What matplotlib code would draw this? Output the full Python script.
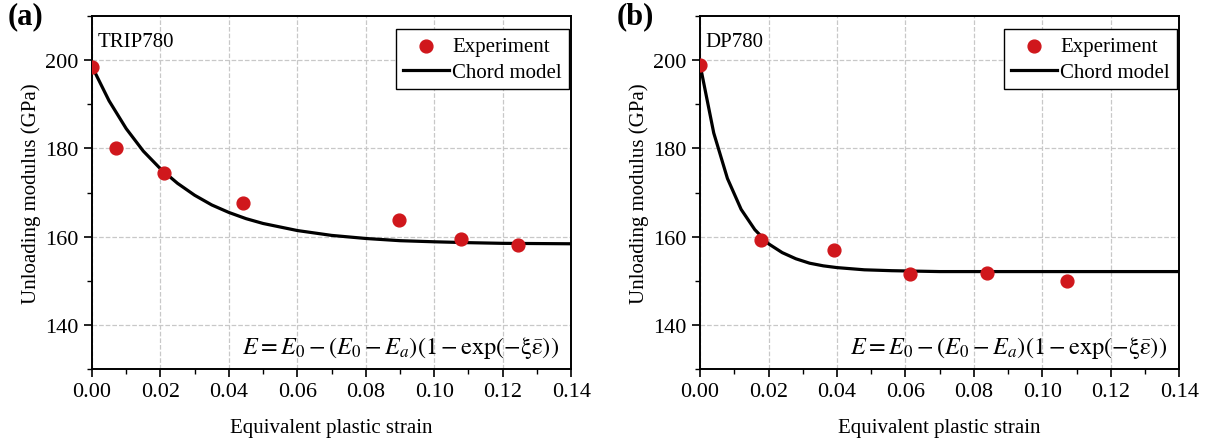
import matplotlib
matplotlib.use("Agg")
import matplotlib.pyplot as plt
from matplotlib.ticker import MultipleLocator

plt.rcParams['font.family'] = ['Liberation Serif', 'DejaVu Serif']
plt.rcParams['mathtext.fontset'] = 'stix'

# TRIP780 experiment
trip_strain = [0.0, 0.0070, 0.0209, 0.0440, 0.0898, 0.1078, 0.1246]
trip_modulus = [198.4, 180.1, 174.4, 167.6, 163.9, 159.4, 158.2]
# TRIP780 chord model
trip_fit_strain = [0.0, 0.005, 0.01, 0.015, 0.02, 0.025, 0.03, 0.035, 0.04, 0.045,
                   0.05, 0.06, 0.07, 0.08, 0.09, 0.10, 0.11, 0.12, 0.13, 0.14]
trip_fit_modulus = [198.6, 190.8, 184.5, 179.4, 175.4, 172.1, 169.4, 167.2, 165.5, 164.1,
                    163.0, 161.4, 160.3, 159.6, 159.1, 158.85, 158.65, 158.5, 158.45, 158.4]

# DP780 experiment
dp_strain = [0.0, 0.0177, 0.0392, 0.0612, 0.0838, 0.1072]
dp_modulus = [198.9, 159.3, 157.0, 151.6, 151.8, 150.0]
# DP780 chord model
dp_fit_strain = [0.0, 0.004, 0.008, 0.012, 0.016, 0.020, 0.024, 0.028, 0.032, 0.036,
                 0.040, 0.048, 0.056, 0.07, 0.10, 0.14]
dp_fit_modulus = [199.0, 183.5, 173.2, 166.2, 161.6, 158.4, 156.4, 155.0, 154.0, 153.4,
                  153.0, 152.5, 152.3, 152.1, 152.1, 152.1]

panels = [
    ('(a)', 'TRIP780', trip_strain, trip_modulus, trip_fit_strain, trip_fit_modulus),
    ('(b)', 'DP780', dp_strain, dp_modulus, dp_fit_strain, dp_fit_modulus),
]

equation = (r'$E=E_0-\left(E_0-E_a\right)\left(1-\mathrm{exp}'
            r'\left(-\mathrm{\xi}\bar{\mathrm{\varepsilon}}\right)\right)$')

fig = plt.figure(figsize=(12.07, 4.39), dpi=100)
lefts = [0.0762, 0.580]

for left, (tag, steel, xs, ys, fx, fy) in zip(lefts, panels):
    ax = fig.add_axes([left, 0.157, 0.3970, 0.804])
    ax.scatter(xs, ys, s=85, color='#d0171c', zorder=3, label='Experiment')
    ax.plot(fx, fy, color='black', lw=2.3, zorder=2, label='Chord model')

    ax.set_xlim(0, 0.14)
    ax.set_ylim(130, 210)
    ax.xaxis.set_major_locator(MultipleLocator(0.02))
    ax.xaxis.set_minor_locator(MultipleLocator(0.01))
    ax.yaxis.set_major_locator(MultipleLocator(20))
    ax.yaxis.set_minor_locator(MultipleLocator(10))
    ax.xaxis.set_major_formatter(plt.FormatStrFormatter('%.2f'))
    ax.tick_params(which='major', direction='out', length=6, width=1.2, labelsize=16)
    ax.tick_params(which='minor', direction='out', length=3.5, width=1.0)
    ax.tick_params(axis='x', top=False)
    ax.tick_params(axis='y', right=False)
    ax.grid(True, which='major', ls='--', color='#c8c8c8', lw=0.9)
    for sp in ax.spines.values():
        sp.set_linewidth(1.4)

    ax.set_xlabel('Equivalent plastic strain', fontsize=15, labelpad=12)
    ax.set_ylabel('Unloading modulus (GPa)', fontsize=15, labelpad=3)

    ax.text(0.012, 0.955, steel, transform=ax.transAxes, fontsize=15,
            ha='left', va='top')
    ax.text(0.975, 0.025, equation, transform=ax.transAxes, fontsize=17.5,
            ha='right', va='bottom')
    ax.text(-0.175, 1.0, tag, transform=ax.transAxes, fontsize=22,
            fontweight='bold', ha='left', va='center')

    leg = ax.legend(loc='upper right', bbox_to_anchor=(0.996, 0.963),
                    borderaxespad=0, fontsize=15, frameon=True, fancybox=False,
                    edgecolor='black', framealpha=1, borderpad=0.35,
                    handlelength=2.2, handletextpad=0.15, labelspacing=0.3)
    leg.get_frame().set_linewidth(1.0)

fig.savefig('out.png', dpi=100)
